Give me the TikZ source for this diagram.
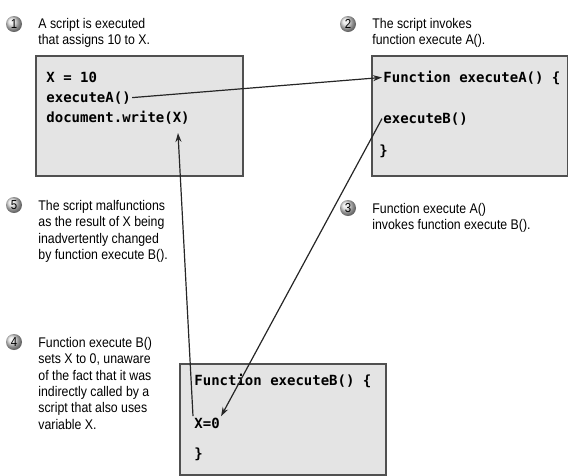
\documentclass[tikz,border=0pt]{standalone}
\usepackage{fontspec}
\newfontfamily\notefont[FakeStretch=0.88]{Liberation Sans}
\newfontfamily\codefont{DejaVu Sans Mono}
\usetikzlibrary{arrows.meta}
\definecolor{boxgray}{RGB}{228,228,228}
\definecolor{edgegray}{RGB}{80,80,80}

\begin{document}
\begin{tikzpicture}[
    x=1pt, y=-1pt,
    >={Stealth[length=9pt,width=6pt]},
    thick
]

\tikzstyle{panel}=[
    draw=edgegray,
    fill=boxgray,
    line width=1.5pt,
    inner sep=0pt,
    anchor=north west
]
\tikzstyle{code}=[
    inner sep=1pt,
    anchor=base west,
    font=\codefont\bfseries\fontsize{14}{16}\selectfont
]
\tikzstyle{note}=[
    inner sep=0pt,
    anchor=north west,
    align=left,
    font=\notefont\fontsize{14}{16.4}\selectfont
]
\tikzstyle{bullet}=[
    circle,
    shading=ball,
    ball color=gray!25,
    minimum size=16pt,
    inner sep=0pt,
    font=\notefont\fontsize{13}{13}\selectfont
]
\tikzstyle{flow}=[
    ->,
    line width=1.2pt,
    black!85
]

\useasboundingbox (0,0) rectangle (568,475);

% the three code boxes
\node[panel, minimum width=207pt, minimum height=120pt] (script) at (35,55) {};
\node[panel, minimum width=196pt, minimum height=120pt] (funa) at (371,55) {};
\node[panel, minimum width=206pt, minimum height=111pt] (funb) at (179,363) {};

\node[code] (xten) at (45,82) {X = 10};
\node[code] (calla) at (45,102) {executeA()};
\node[code] (docw) at (45,122) {document.write(X)};

\node[code] (heada) at (382,82) {Function executeA() \{};
\node[code] (callb) at (382,123) {executeB()};
\node[code] (enda) at (378,155) {\}};

\node[code] (headb) at (193,385) {Function executeB() \{};
\node[code] (xzero) at (193,428) {X=0};
\node[code] (endb) at (193,458) {\}};

% numbered notes
\node[bullet] (n1) at (14,24) {1};
\node[note] (t1) at (38,17.8) {A script is executed\\that assigns 10 to X.};

\node[bullet] (n2) at (348,24) {2};
\node[note] (t2) at (372,17.8) {The script invokes\\function execute A().};

\node[bullet] (n3) at (348,208) {3};
\node[note] (t3) at (372,202.8) {Function execute A()\\invokes function execute B().};

\node[bullet] (n5) at (14,205) {5};
\node[note] (t5) at (38,199.8) {The script malfunctions\\as the result of X being\\inadvertently changed\\by function execute B().};

\node[bullet] (n4) at (14,342) {4};
\node[note] (t4) at (38,336.8) {Function execute B()\\sets X to 0, unaware\\of the fact that it was\\indirectly called by a\\script that also uses\\variable X.};

% calls
\coordinate (wx) at (178,133);
\draw[flow] (calla.east) -- (heada.west);
\draw[flow] (callb.west) -- (xzero.north east);
\draw[flow] (xzero.north west) -- (wx);

\end{tikzpicture}
\end{document}
